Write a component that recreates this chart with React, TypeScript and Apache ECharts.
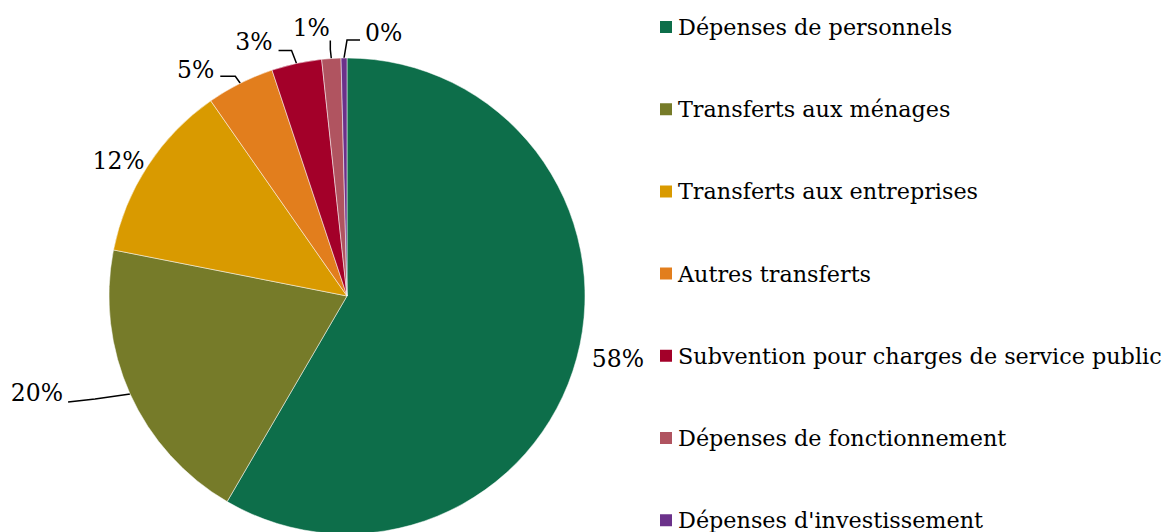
import React, { useEffect, useRef } from "react";
import * as echarts from "echarts";

const categories = [
  "Dépenses de personnels",
  "Transferts aux ménages",
  "Transferts aux entreprises",
  "Autres transferts",
  "Subvention pour charges de service public",
  "Dépenses de fonctionnement",
  "Dépenses d'investissement",
];
const values = [58.4, 19.7, 12.2, 4.6, 3.4, 1.3, 0.4];
const colors = ["#0D6E4A", "#767B29", "#D99A00", "#E27E1D", "#A30029", "#B05460", "#6B318A"];

// label placement relative to the slice's outer mid-point (style, not data)
type Spec = { line: number[][] | null; lx: number; ly: number; align: "left" | "right" | "center" };
const labelSpecs: Spec[] = [
  { line: null, lx: 15, ly: 1, align: "left" },
  { line: [[-35, 5], [-62, 8]], lx: -67, ly: -1, align: "right" },
  { line: null, lx: -3, ly: -5, align: "right" },
  { line: [[-5, -7], [-20, -7]], lx: -26, ly: -13, align: "right" },
  { line: [[-5, -13], [-18, -13]], lx: -24, ly: -21, align: "right" },
  { line: [[-1, -9], [-1, -18]], lx: -20, ly: -31, align: "center" },
  { line: [[3, -18], [16, -18]], lx: 21, ly: -25, align: "left" },
];

const FONT = "'DejaVu Serif', serif";
const FS = 23.5;
const FSL = 22.3;
const CX = 347;
const CY = 296;
const R = 238;

export default function App() {
  const ref = useRef<HTMLDivElement>(null);
  useEffect(() => {
    if (!ref.current) return;
    const chart = echarts.init(ref.current, undefined, { renderer: "svg" });
    const total = values.reduce((a, b) => a + b, 0);
    const anchors: number[][] = [];
    let cum = 0;
    values.forEach((v) => {
      const mid = ((cum + v / 2) / total) * Math.PI * 2;
      anchors.push([CX + R * Math.sin(mid), CY - R * Math.cos(mid)]);
      cum += v;
    });
    chart.setOption({
      animation: false,
      backgroundColor: "#ffffff",
      textStyle: { fontFamily: FONT },
      legend: {
        orient: "vertical",
        left: 658,
        top: 16,
        height: 600,
        padding: 0,
        itemWidth: 14,
        itemHeight: 14,
        itemGap: 82 - (FSL - 0.5),
        icon: "rect",
        textStyle: { fontFamily: FONT, fontSize: FSL, color: "#000" },
        data: categories,
      },
      series: [
        {
          type: "pie",
          center: [CX, CY],
          radius: R,
          startAngle: 90,
          clockwise: true,
          avoidLabelOverlap: false,
          minShowLabelAngle: 0,
          itemStyle: { borderColor: "#ffffff", borderWidth: 0.5 },
          label: {
            show: true,
            position: "outside",
            fontFamily: FONT,
            fontSize: FS,
            color: "#000",
            formatter: (p: any) => Math.round(p.percent) + "%",
          },
          labelLine: { show: true, length: 10, length2: 10, lineStyle: { color: "#000", width: 1.5 } },
          labelLayout: (params: any) => {
            const i = params.dataIndex;
            const s = labelSpecs[i];
            const a = anchors[i];
            const out: any = {
              x: a[0] + s.lx,
              y: a[1] + s.ly,
              align: s.align,
              verticalAlign: "middle",
            };
            if (s.line) {
              out.labelLinePoints = [
                [a[0], a[1]],
                [a[0] + s.line[0][0], a[1] + s.line[0][1]],
                [a[0] + s.line[1][0], a[1] + s.line[1][1]],
              ];
            }
            return out;
          },
          data: categories.map((name, i) => ({
            name,
            value: values[i],
            itemStyle: { color: colors[i] },
            labelLine: { show: labelSpecs[i].line !== null },
          })),
        },
      ],
    });
    return () => chart.dispose();
  }, []);
  return (
    <div
      ref={ref}
      style={{ position: "fixed", left: 0, top: 0, width: 1162, height: 532 }}
    />
  );
}
